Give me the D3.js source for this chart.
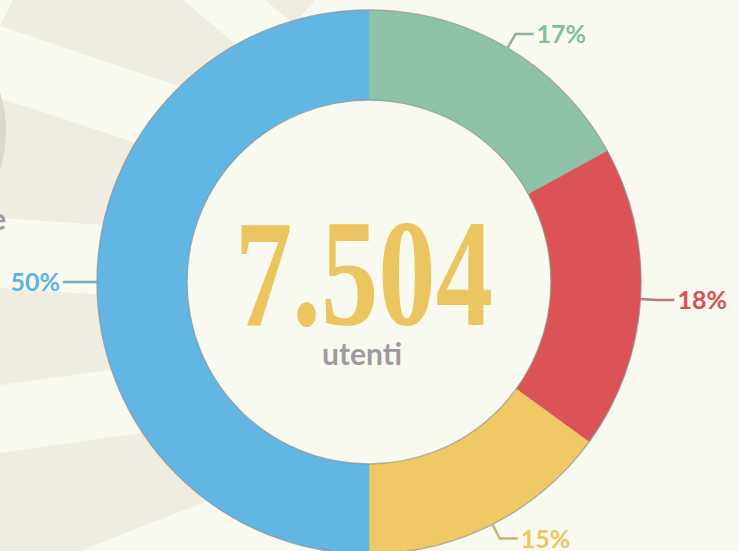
<!DOCTYPE html>
<html lang="it">
<head>
<meta charset="utf-8">
<style>
    body { margin: 0; background: #f9faef; }
    svg { display: block; }
</style>
</head>
<body>
<svg width="739" height="551"></svg>
<script src="https://cdn.jsdelivr.net/npm/d3@7/dist/d3.min.js"></script>
<script>
    // Data: share of users, clockwise from 12 o'clock
    const shares = [17, 18, 15, 50];
    const labels = ["17%", "18%", "15%", "50%"];
    const sliceColors = ["#8ec3a7", "#db5357", "#eec966", "#62b6e4"];
    const textColors = ["#82bf9c", "#d94f55", "#ecc65e", "#5cb3df"];
    const totalLabel = "7.504";
    const unitLabel = "utenti";

    const svg = d3.select("svg");
    const W = 739, H = 551;
    const cx = 369, cy = 282;
    const outerR = 272, innerR = 182;

    svg.append("rect").attr("width", W).attr("height", H).attr("fill", "#f9faef");

    /* background sunburst rays (decoration), each wedge = two edges {x, y, slope} */
    const wedges = [
        { a: { x: 183, y: 0, s: 0.84 }, b: { x: 0, y: 26, s: 0.335 }, extra: [[13, 0]] },
        { a: { x: 0, y: 98, s: 0.33 }, b: { x: 0, y: 218, s: 0.067 }, extra: [] },
        { a: { x: 0, y: 288, s: 0.065 }, b: { x: 0, y: 385, s: -0.136 }, extra: [] },
        { a: { x: 0, y: 453, s: -0.143 }, b: { x: 0, y: 582, s: -0.39 }, extra: [] },
        { a: { x: 265, y: 0, s: 0.82 }, b: { x: 315, y: 0, s: -1.15 }, extra: [] }
    ];
    function meet(e1, e2) {
        const x = (e2.y - e1.y + e1.s * e1.x - e2.s * e2.x) / (e1.s - e2.s);
        return [x, e1.y + e1.s * (x - e1.x)];
    }
    svg.append("g").selectAll("path")
        .data(wedges)
        .join("path")
        .attr("fill", "#efede2")
        .attr("d", w => d3.line()([[w.a.x, w.a.y], meet(w.a, w.b), [w.b.x, w.b.y], ...w.extra]) + "Z");

    // partial ring and word cut off at the left edge
    svg.append("circle")
        .attr("cx", -120).attr("cy", 131).attr("r", 123)
        .attr("fill", "none").attr("stroke", "#dcd6cb").attr("stroke-width", 6);
    svg.append("text")
        .attr("x", 6).attr("y", 230)
        .attr("text-anchor", "end")
        .attr("font-family", "Lato, sans-serif").attr("font-weight", 700)
        .attr("font-size", 30).attr("fill", "#a099a2")
        .text("e");

    /* donut */
    const chart = svg.append("g").attr("transform", `translate(${cx}, ${cy})`);
    const pie = d3.pie().sort(null).value(d => d);
    const arcs = pie(shares);
    const arc = d3.arc().innerRadius(innerR).outerRadius(outerR);

    chart.append("circle").attr("r", innerR).attr("fill", "#f9faef");

    chart.selectAll("path.slice")
        .data(arcs)
        .join("path")
        .attr("class", "slice")
        .attr("d", arc)
        .attr("fill", (d, i) => sliceColors[i])
        .attr("stroke", (d, i) => sliceColors[i])
        .attr("stroke-width", 0.5);

    [outerR, innerR].forEach(r => {
        chart.append("circle").attr("r", r)
            .attr("fill", "none").attr("stroke", "#8f8f8f")
            .attr("stroke-opacity", 0.6).attr("stroke-width", 1.4);
    });

    // leader lines and percentage labels
    const lead = 16, run = 18, gap = 3;
    arcs.forEach((d, i) => {
        const a = (d.startAngle + d.endAngle) / 2;
        const sx = Math.sin(a), sy = -Math.cos(a);
        const p0 = [outerR * sx, outerR * sy];
        const p1 = [(outerR + lead) * sx, (outerR + lead) * sy];
        const dir = sx >= 0 ? 1 : -1;
        const p2 = [p1[0] + dir * run, p1[1]];
        chart.append("path")
            .attr("d", d3.line()([p0, p1, p2]))
            .attr("fill", "none")
            .attr("stroke", d3.interpolateRgb(sliceColors[i], "#9a9a9a")(0.5))
            .attr("stroke-width", 2.5);
        chart.append("text")
            .attr("x", p2[0] + dir * gap).attr("y", p2[1])
            .attr("dy", "0.36em")
            .attr("text-anchor", dir > 0 ? "start" : "end")
            .attr("font-family", "Lato, sans-serif").attr("font-weight", 700)
            .attr("font-size", 25)
            .attr("fill", textColors[i])
            .text(labels[i]);
    });

    // centre total
    chart.append("text")
        .attr("x", -5).attr("y", 43)
        .attr("text-anchor", "middle")
        .attr("font-family", "'Liberation Serif', serif").attr("font-weight", 700)
        .attr("font-size", 152)
        .attr("textLength", 258).attr("lengthAdjust", "spacingAndGlyphs")
        .attr("fill", "#ebc660")
        .text(totalLabel);
    chart.append("text")
        .attr("x", -7).attr("y", 83)
        .attr("text-anchor", "middle")
        .attr("font-family", "Lato, sans-serif").attr("font-weight", 700)
        .attr("font-size", 30)
        .attr("fill", "#a099a2")
        .text(unitLabel);
</script>
</body>
</html>
